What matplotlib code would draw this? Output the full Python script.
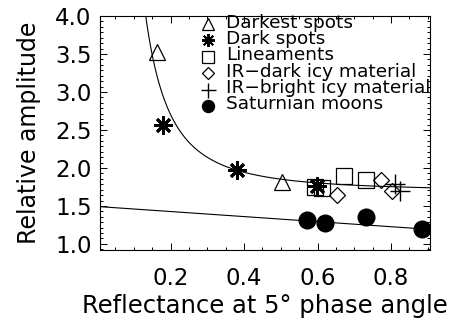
import numpy as np
import matplotlib
matplotlib.use('Agg')
import matplotlib.pyplot as plt
from matplotlib.ticker import MultipleLocator, AutoMinorLocator

# data
darkest_x = [0.163, 0.503]
darkest_y = [3.53, 1.82]

dark_x = [0.180, 0.381, 0.599]
dark_y = [2.57, 1.97, 1.76]

lineam_x = [0.593, 0.612, 0.672, 0.732]
lineam_y = [1.75, 1.73, 1.90, 1.84]

irdark_x = [0.652, 0.772, 0.802]
irdark_y = [1.64, 1.84, 1.70]

irbright_x = [0.811, 0.824]
irbright_y = [1.79, 1.70]

moons_x = [0.571, 0.620, 0.732, 0.884]
moons_y = [1.32, 1.27, 1.35, 1.20]

labels = ['Darkest spots', 'Dark spots', 'Lineaments', 'IR\u2212dark icy material',
          'IR\u2212bright icy material', 'Saturnian moons']

# fit curves: y = a + b / x^2 (upper) and y = c + d*x (lower)
fit_a, fit_b = 1.69, 0.0405
fit_c, fit_d = 1.493, -0.333

styles = [
    dict(marker='^', ms=12, mfc='none', mec='k', mew=0.9),
    dict(marker=(8, 2, 0), ms=13, mec='k', mew=2.0),
    dict(marker='s', ms=12, mfc='none', mec='k', mew=0.9),
    dict(marker='D', ms=8.2, mfc='none', mec='k', mew=0.9),
    dict(marker='+', ms=15, mec='k', mew=1.0),
    dict(marker='o', ms=12, mfc='k', mec='k'),
]
series = [(darkest_x, darkest_y), (dark_x, dark_y), (lineam_x, lineam_y),
          (irdark_x, irdark_y), (irbright_x, irbright_y), (moons_x, moons_y)]

fig = plt.figure(figsize=(4.58, 3.21), dpi=100)
ax = fig.add_axes([100/458, 71/321, 330/458, 234/321])

xc = np.linspace(0.12, 0.906, 300)
ax.plot(xc, fit_a + fit_b / xc**2, color='k', lw=0.8)
xl = np.linspace(0.008, 0.906, 10)
ax.plot(xl, fit_c + fit_d * xl, color='k', lw=0.8)

for (xs, ys), st in zip(series, styles):
    ax.plot(xs, ys, ls='none', **st)

# legend drawn by hand, IDL style
for i, (lab, st) in enumerate(zip(labels, styles)):
    py = 24 + 16.4 * i
    yf = 1 - (py - 16) / 234
    st2 = dict(st)
    st2['ms'] = st['ms'] * 0.72
    if i == 1:
        st2['mew'] = 1.4
    ax.plot([0.327], [yf], transform=ax.transAxes, clip_on=False, ls='none', **st2)
    ax.text(0.382, yf - 3.5 / 234, lab, transform=ax.transAxes, fontsize=13.3,
            va='baseline', ha='left')

ax.set_xlim(0.008, 0.906)
ax.set_ylim(0.92, 4.0)
ax.set_xticks([0.2, 0.4, 0.6, 0.8])
ax.set_xticklabels(['0.2', '0.4', '0.6', '0.8'])
ax.set_yticks([1.0, 1.5, 2.0, 2.5, 3.0, 3.5, 4.0])
ax.set_yticklabels(['1.0', '1.5', '2.0', '2.5', '3.0', '3.5', '4.0'])
ax.xaxis.set_minor_locator(MultipleLocator(0.05))
ax.yaxis.set_minor_locator(AutoMinorLocator(7))
ax.tick_params(which='both', direction='in', top=True, right=True, width=0.7)
ax.tick_params(which='major', length=5)
ax.tick_params(which='minor', length=2.5)
ax.tick_params(axis='x', labelsize=16.5, pad=12)
ax.tick_params(axis='y', labelsize=16.5, pad=6)
for sp in ax.spines.values():
    sp.set_linewidth(0.8)

ax.set_xlabel('Reflectance at 5\u00b0 phase angle', fontsize=17.5, labelpad=3)
ax.set_ylabel('Relative amplitude', fontsize=17, labelpad=10)

fig.savefig('out.png', dpi=100)
